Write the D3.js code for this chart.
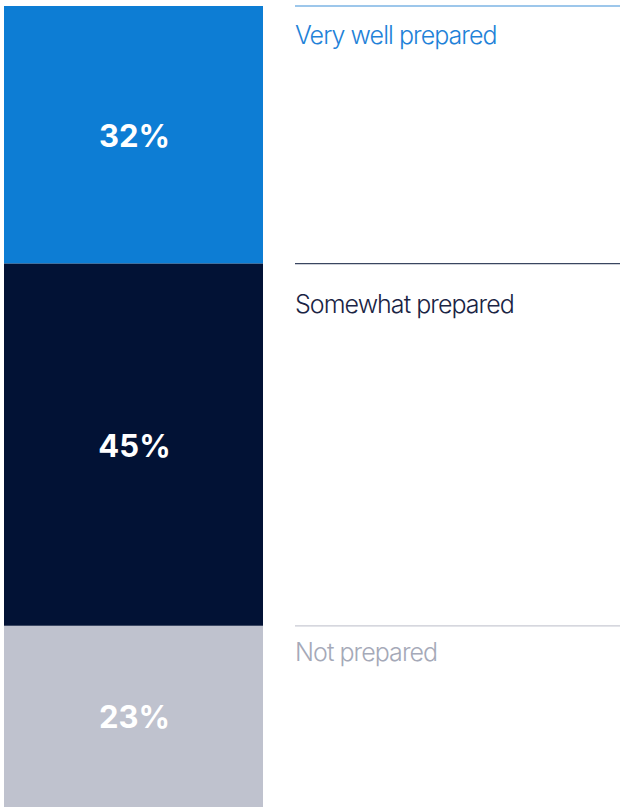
<!DOCTYPE html>
<html><head><meta charset="utf-8">
<script src="https://cdn.jsdelivr.net/npm/d3@7"></script>
<style>html,body{margin:0;padding:0;background:#fff;}svg{display:block;}</style>
</head><body>
<script>
const categories = ["Very well prepared", "Somewhat prepared", "Not prepared"];
const values = [32, 45, 23];
const valueLabels = ["32%", "45%", "23%"];
const barColors = ["#0d7dd4", "#021235", "#bfc2ce"];
const textColors = ["#1f82d8", "#1a2444", "#a5a9b8"];
const lineColors = ["#3d8fd8", "#3a4660", "#c8cad3"];

const W = 620, H = 807;
const svg = d3.select("body").append("svg").attr("width", W).attr("height", H);

let cum = 0;
const stacked = values.map((v, i) => { const s = {cat: categories[i], v, y0: cum, y1: cum + v, i}; cum += v; return s; });

const y = d3.scaleLinear().domain([0, 100]).range([6, 811]);
const x = d3.scaleBand().domain(["bar"]).range([4, 263]).padding(0);
const labelShift = i => (i === 1 ? 11 : i === 2 ? -3 : 0);

const g = svg.selectAll("g.seg").data(stacked).join("g").attr("class", "seg");
g.append("rect")
  .attr("x", x("bar")).attr("width", x.bandwidth())
  .attr("y", d => y(d.y0)).attr("height", d => y(d.y1) - y(d.y0))
  .attr("fill", d => barColors[d.i]);
g.append("text")
  .attr("x", x("bar") + x.bandwidth() / 2 + 1)
  .attr("y", d => (y(d.y0) + Math.min(y(d.y1), H)) / 2 + 12)
  .attr("text-anchor", "middle")
  .attr("fill", "#fff")
  .attr("font-family", "Inter, 'Noto Sans', sans-serif")
  .attr("font-weight", 700)
  .attr("font-size", 31)
  .text(d => valueLabels[d.i]);
g.append("line")
  .attr("x1", 295).attr("x2", 620)
  .attr("y1", d => y(d.y0)).attr("y2", d => y(d.y0))
  .attr("stroke", d => lineColors[d.i]).attr("stroke-width", 1.2);
g.append("text")
  .attr("x", 295)
  .attr("y", d => y(d.y0) + 38 + labelShift(d.i))
  .attr("fill", d => textColors[d.i])
  .attr("font-family", "Inter, 'Noto Sans', sans-serif")
  .attr("font-weight", 300)
  .attr("font-size", 25)
  .attr("letter-spacing", -0.95)
  .text(d => d.cat);
</script>
</body></html>
